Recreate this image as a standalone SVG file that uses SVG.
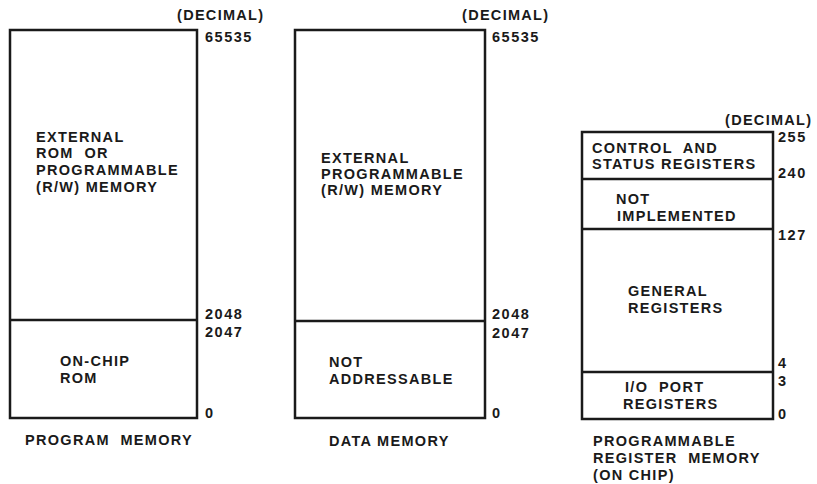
<svg xmlns="http://www.w3.org/2000/svg" width="817" height="484" viewBox="0 0 817 484">
<style>
  .box{fill:none;stroke:#1a1a1a;stroke-width:2.5}
  .div{stroke:#1a1a1a;stroke-width:2.5}
  text{font-family:"Liberation Sans",Arial,sans-serif;font-weight:bold;font-size:14.5px;letter-spacing:1.3px;fill:#1a1a1a}
  .num{letter-spacing:1.5px}
</style>
<rect width="817" height="484" fill="#ffffff"/>
<g id="program-memory">
  <rect class="box" x="10" y="30" width="187" height="388"/>
  <line class="div" x1="10" y1="320" x2="197" y2="320"/>
  <text x="177" y="20">(DECIMAL)</text>
  <text class="num" x="205" y="42">65535</text>
  <text class="num" x="205" y="319">2048</text>
  <text class="num" x="205" y="337">2047</text>
  <text class="num" x="205" y="418">0</text>
  <text x="36" y="142">EXTERNAL</text>
  <text x="36" y="158" xml:space="preserve">ROM  OR</text>
  <text x="36" y="175">PROGRAMMABLE</text>
  <text x="36" y="192">(R/W) MEMORY</text>
  <text x="60" y="366">ON-CHIP</text>
  <text x="60" y="383">ROM</text>
  <text x="25" y="445" xml:space="preserve">PROGRAM  MEMORY</text>
</g>
<g id="data-memory">
  <rect class="box" x="295" y="30" width="190" height="388"/>
  <line class="div" x1="295" y1="321" x2="485" y2="321"/>
  <text x="462" y="20">(DECIMAL)</text>
  <text class="num" x="492" y="42">65535</text>
  <text class="num" x="492" y="319">2048</text>
  <text class="num" x="492" y="338">2047</text>
  <text class="num" x="492" y="418">0</text>
  <text x="321" y="163">EXTERNAL</text>
  <text x="321" y="179">PROGRAMMABLE</text>
  <text x="321" y="195">(R/W) MEMORY</text>
  <text x="329" y="367">NOT</text>
  <text x="329" y="384">ADDRESSABLE</text>
  <text x="329" y="446">DATA MEMORY</text>
</g>
<g id="register-memory">
  <rect class="box" x="582" y="132" width="191" height="287"/>
  <line class="div" x1="582" y1="179" x2="773" y2="179"/>
  <line class="div" x1="582" y1="229" x2="773" y2="229"/>
  <line class="div" x1="582" y1="372" x2="773" y2="372"/>
  <text x="725" y="125">(DECIMAL)</text>
  <text class="num" x="778" y="142">255</text>
  <text class="num" x="778" y="178">240</text>
  <text class="num" x="778" y="240">127</text>
  <text class="num" x="778" y="368">4</text>
  <text class="num" x="778" y="386">3</text>
  <text class="num" x="778" y="419">0</text>
  <text x="592" y="153" xml:space="preserve">CONTROL  AND</text>
  <text x="592" y="169">STATUS REGISTERS</text>
  <text x="616" y="204">NOT</text>
  <text x="617" y="221">IMPLEMENTED</text>
  <text x="628" y="296">GENERAL</text>
  <text x="628" y="313">REGISTERS</text>
  <text x="625" y="392" xml:space="preserve">I/O  PORT</text>
  <text x="623" y="409">REGISTERS</text>
  <text x="593" y="446">PROGRAMMABLE</text>
  <text x="593" y="463" xml:space="preserve">REGISTER  MEMORY</text>
  <text x="593" y="480">(ON CHIP)</text>
</g>
<g id="connectors"></g>
</svg>
